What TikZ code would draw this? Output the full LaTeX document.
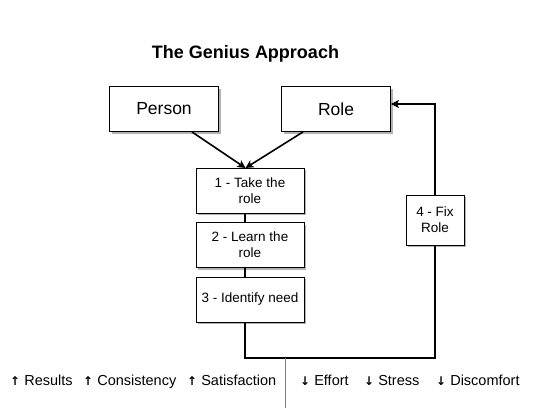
\documentclass[tikz,border=0pt]{standalone}
\usepackage{fontspec}
\setmainfont{Liberation Sans}
\newfontfamily\arrowfont{DejaVu Sans}
\definecolor{divgray}{RGB}{130, 130, 130}
\usetikzlibrary{arrows.meta, positioning, calc, shadows}

\begin{document}
\begin{tikzpicture}[
  x=1pt, y=-1pt,
  blk/.style={draw=black, line width=0.9pt, fill=white, inner sep=0pt, align=center,
    drop shadow={shadow xshift=2pt, shadow yshift=-2pt, fill=black, opacity=0.3}},
  bigblk/.style={blk, minimum width=109pt, minimum height=45pt, font=\fontsize{17.5}{20}\selectfont},
  stepblk/.style={blk, minimum width=108pt, minimum height=45pt, font=\fontsize{13.5}{16}\selectfont},
  flow/.style={line width=1.6pt, -{Stealth[length=8pt, width=8pt, inset=2pt]}},
  link/.style={line width=1.6pt},
  effect/.style={anchor=base west, inner sep=0pt, font=\fontsize{14.5}{17}\selectfont}
]
  \useasboundingbox (0,0) rectangle (544,408);

  \node[font=\bfseries\fontsize{18}{21}\selectfont] (title) at (245.5,54) {The Genius Approach};

  \node[bigblk] (person) at (164,109) {Person};
  \node[bigblk] (role) at (336,109) {Role};

  \node[stepblk] (take) at (250,190.5) {1 - Take the\\role};
  \node[stepblk] (learn) at (250,245) {2 - Learn the\\role};
  \node[stepblk] (need) at (250,299.5) {3 - Identify need};
  \node[stepblk, minimum width=58pt, minimum height=50pt] (fix) at (435,220) {4 - Fix\\Role};

  % loop corners
  \coordinate (meet) at (245.5,168);
  \coordinate (loopL) at (245,358);
  \coordinate (loopR) at (435,358);
  \coordinate (loopT) at (435,104);

  \draw[flow] ($(person.south)+(28,0)$) -- (meet);
  \draw[flow] ($(role.south)+(-33,0)$) -- (meet);
  \draw[link] (take.south -| loopL) -- (learn.north -| loopL);
  \draw[link] (learn.south -| loopL) -- (need.north -| loopL);
  \draw[link] (need.south -| loopL) -- (loopL) -- (loopR) -- (fix.south);
  \draw[flow] (fix.north) -- (loopT) -- (loopT -| role.east);

  % outcomes
  \coordinate (divtop) at (285,358);
  \coordinate (divbot) at (285,408);
  \draw[divgray, line width=1pt] (divtop) -- (divbot);

  \node[effect] (results) at (10,385) {{\arrowfont\bfseries\fontsize{12}{14}\selectfont↑} Results};
  \node[effect] (consist) at (83,385) {{\arrowfont\bfseries\fontsize{12}{14}\selectfont↑} Consistency};
  \node[effect] (satisf) at (187,385) {{\arrowfont\bfseries\fontsize{12}{14}\selectfont↑} Satisfaction};
  \node[effect] (effort) at (300,385) {{\arrowfont\bfseries\fontsize{12}{14}\selectfont↓} Effort};
  \node[effect] (stress) at (364,385) {{\arrowfont\bfseries\fontsize{12}{14}\selectfont↓} Stress};
  \node[effect] (discomf) at (436,385) {{\arrowfont\bfseries\fontsize{12}{14}\selectfont↓} Discomfort};
\end{tikzpicture}
\end{document}
